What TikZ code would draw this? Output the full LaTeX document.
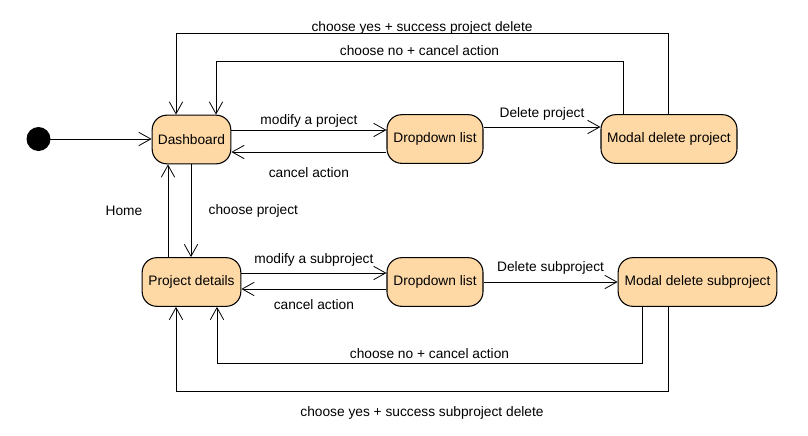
\documentclass[tikz,border=0pt]{standalone}
\usepackage{fontspec}
\setmainfont{Liberation Sans}
\usetikzlibrary{arrows.meta,positioning}

\definecolor{statefill}{RGB}{254,217,166}

\tikzset{
  state/.style={draw,thick,fill=statefill,rounded corners=11pt,
    minimum height=36.5pt,inner sep=2pt,font=\fontsize{10.3}{12}\selectfont},
  trans/.style={-{Straight Barb[length=9pt,width=10pt]},semithick},
  lbl/.style={font=\fontsize{10.3}{12}\selectfont,inner sep=2pt}
}

\begin{document}
\begin{tikzpicture}[x=0.75pt,y=-0.75pt]
\useasboundingbox (0,0) rectangle (808,436);

% states
\fill[black] (38.5,139) circle (12) coordinate (init);
\node[state,minimum width=59pt] (dash) at (191.5,139.5) {Dashboard};
\node[state,minimum width=72pt] (ddp) at (435,139) {Dropdown list};
\node[state,minimum width=102pt] (mdp) at (669,139) {Modal delete project};
\node[state,minimum width=74pt] (pd) at (191.5,282) {Project details};
\node[state,minimum width=72pt] (dds) at (435,282) {Dropdown list};
\node[state,minimum width=119pt] (mds) at (697.5,282) {Modal delete subproject};

% transitions, top row
\draw[trans] (init) -- (dash.west |- init);
\draw[trans] (dash.east |- 0,130) -- node[lbl,above] (lmp) {modify a project} (ddp.west |- 0,130);
\draw[trans] (ddp.west |- 0,152) -- node[lbl,below,yshift=-9pt] (lcp) {cancel action} (dash.east |- 0,152);
\draw[trans] (ddp.east |- 0,127) -- node[lbl,above,yshift=2.5pt] (ldp) {Delete project} (mdp.west |- 0,127);
\draw[trans] (mdp.north -| 668,0) -- (668,33) -- node[lbl,above,yshift=-3pt] (lyp) {choose yes + success project delete} (176,33) -- (dash.north -| 176,0);
\draw[trans] (mdp.north -| 623,0) -- (623,61) -- node[lbl,above,yshift=1.5pt] (lnp) {choose no + cancel action} (216,61) -- (dash.north -| 216,0);

% between rows
\draw[trans] (pd.north -| 168,0) -- node[lbl,left=17pt] (lhome) {Home} (dash.south -| 168,0);
\draw[trans] (dash.south -| 191,0) -- node[lbl,right=11pt] (lchp) {choose project} (pd.north -| 191,0);

% transitions, bottom row
\draw[trans] (pd.east |- 0,273) -- node[lbl,above,yshift=3pt] (lms) {modify a subproject} (dds.west |- 0,273);
\draw[trans] (dds.west |- 0,289) -- node[lbl,below,yshift=-5.5pt] (lcs) {cancel action} (pd.east |- 0,289);
\draw[trans] (dds) -- node[lbl,above,yshift=3.5pt] (lds) {Delete subproject} (mds);
\draw[trans] (mds.south -| 642,0) -- (642,363) -- node[lbl,above,yshift=1pt] (lns) {choose no + cancel action} (217,363) -- (pd.south -| 217,0);
\draw[trans] (mds.south -| 668,0) -- (668,391) -- node[lbl,below,yshift=-9pt] (lys) {choose yes + success subproject delete} (176,391) -- (pd.south -| 176,0);
\end{tikzpicture}
\end{document}
